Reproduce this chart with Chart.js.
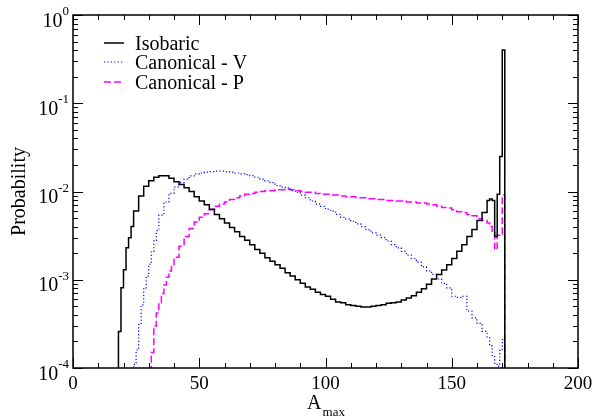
<!DOCTYPE html>
<html>
<head>
<meta charset="utf-8">
<script src="https://cdn.jsdelivr.net/npm/chart.js@4.4.1/dist/chart.umd.min.js"></script>
<style>
  body { margin: 0; background: #fff; }
  canvas { display: block; }
</style>
</head>
<body>
<canvas id="histChart" width="596" height="417"></canvas>
<script>
// bin left edges and bin heights
const isoEdges = [18, 19, 20, 21, 22, 23,
  24, 26, 28, 30, 32, 34, 36, 38, 40, 42, 44, 46, 48, 50, 52, 54, 56, 58, 60, 62, 64, 66, 68, 70,
  72, 74, 76, 78, 80, 82, 84, 86, 88, 90, 92, 94, 96, 98, 100, 102, 104, 106, 108, 110, 112, 114,
  116, 118, 120, 122, 124, 126, 128, 130, 132, 134, 136, 138, 140, 142, 144, 146, 148, 150, 152,
  154, 156, 158, 160, 162,
  164, 165, 166, 167, 168, 169, 170];
const isoValues = [0.00026, 0.00081, 0.0013, 0.0023, 0.0030, 0.0040,
  0.0060, 0.0089, 0.0115, 0.0132, 0.0145, 0.0151, 0.0151, 0.0141, 0.0129, 0.0120, 0.0110, 0.0100,
  0.0087, 0.0078, 0.0071, 0.0063, 0.0055, 0.0049, 0.0044, 0.0039, 0.0035, 0.0031, 0.0028, 0.0025,
  0.0022, 0.0020, 0.00178, 0.00162, 0.00148, 0.00135, 0.0012, 0.0011, 0.0010, 0.00091, 0.00083,
  0.00078, 0.00072, 0.00068, 0.00065, 0.00060, 0.00056, 0.00055, 0.00052, 0.00051, 0.00050,
  0.00049, 0.00049, 0.00050, 0.00051, 0.00052, 0.00054, 0.00055, 0.00056, 0.00059, 0.00062,
  0.00066, 0.00072, 0.00079, 0.00089, 0.00102, 0.00115, 0.00129, 0.00148, 0.00174, 0.0021,
  0.0025, 0.0031, 0.0037, 0.0047, 0.0058,
  0.0079, 0.0082, 0.0079, 0.0031, 0.0093, 0.025, 0.40];
const isoEnd = 171;

const canVEdges = [24, 25, 26, 27, 28, 29, 30, 31, 32, 33,
  34, 36, 38, 40, 42, 44, 46, 48, 50, 52, 54, 56, 58, 60, 62, 64, 66, 68, 70, 72, 74, 76, 78, 80,
  82, 84, 86, 88, 90, 92, 94, 96, 98, 100, 102, 104, 106, 108, 110, 112, 114, 116, 118, 120, 122,
  124, 126, 128, 130, 132, 134, 136, 138, 140, 142, 144, 146, 148, 150, 152, 154, 156, 158, 160, 162,
  164, 165, 166, 167, 168, 169, 170];
const canVValues = [0.00011, 0.00016, 0.00032, 0.00052, 0.00079, 0.0011, 0.0015, 0.0021, 0.0028, 0.0036,
  0.0054, 0.0076, 0.0095, 0.0112, 0.0126, 0.0138, 0.0150, 0.0158, 0.0162, 0.0166, 0.0168, 0.0170,
  0.0170, 0.0168, 0.0166, 0.0162, 0.0158, 0.0155, 0.0151, 0.0145, 0.0138, 0.0132, 0.0126, 0.0117,
  0.0112, 0.0110, 0.0102, 0.0098, 0.0091, 0.0085, 0.0078, 0.0072, 0.0068, 0.0063, 0.0060, 0.0055,
  0.0051, 0.0049, 0.0046, 0.0043, 0.0040, 0.0037, 0.0034, 0.0032, 0.0030, 0.00275, 0.0025, 0.0023,
  0.0021, 0.0019, 0.00174, 0.00158, 0.0014, 0.00126, 0.00115, 0.00102, 0.00091, 0.00081, 0.00065,
  0.00063, 0.00065, 0.00044, 0.00037, 0.00032, 0.00026,
  0.00022, 0.000178, 0.000138, 0.00011, 0.000105, 0.000158, 0.00021];
const canVEnd = 171;

const canPEdges = [31, 32, 33, 34, 35, 36, 37, 38, 39,
  40, 42, 44, 46, 48, 50, 52, 54, 56, 58, 60, 62, 64, 66, 68, 70, 72, 74, 76, 78, 80, 82, 84, 86,
  88, 90, 92, 94, 96, 98, 100, 102, 104, 106, 108, 110, 112, 114, 116, 118, 120, 122, 124, 126, 128,
  130, 132, 134, 136, 138, 140, 142, 144, 146, 148, 150, 152, 154, 156, 158, 160, 162,
  164, 165, 166, 167, 168, 169, 170];
const canPValues = [0.00015, 0.0003, 0.00042, 0.00055, 0.0007, 0.00087, 0.00107, 0.00126, 0.00148,
  0.0018, 0.0024, 0.0031, 0.0038, 0.0045, 0.0051, 0.0056, 0.0062, 0.0068, 0.0072, 0.0076, 0.0081,
  0.0085, 0.0089, 0.0093, 0.0095, 0.0098, 0.0100, 0.0102, 0.0102, 0.0105, 0.0105, 0.0106, 0.0105,
  0.0102, 0.0100, 0.0098, 0.0098, 0.0095, 0.0093, 0.0093, 0.0091, 0.0091, 0.0089, 0.0087, 0.0087,
  0.0085, 0.0085, 0.0083, 0.0083, 0.0081, 0.0081, 0.0079, 0.0079, 0.0078, 0.0078, 0.0076, 0.0076,
  0.0074, 0.0074, 0.0072, 0.0071, 0.0068, 0.0066, 0.0065, 0.0062, 0.0059, 0.0058, 0.0055, 0.0053,
  0.0049, 0.0047,
  0.0044, 0.0040, 0.0034, 0.0022, 0.0032, 0.0033, 0.0091];
const canPEnd = 171;

const seriesNames = ["Isobaric", "Canonical - V", "Canonical - P"];
const xTickValues = [0, 50, 100, 150, 200];
const yTickExponents = [-4, -3, -2, -1, 0];

const FLOOR = 1e-7; // below the axis, clipped away

function steps(edges, values, end) {
  const pts = [{ x: edges[0], y: FLOOR }];
  edges.forEach((e, i) => pts.push({ x: e, y: values[i] }));
  pts.push({ x: end, y: FLOOR });
  return pts;
}

const styles = [
  { color: "#000000", dash: [], width: 1.5 },
  { color: "#0000ff", dash: [1.2, 2.2], width: 1.2 },
  { color: "#ff00ff", dash: [7, 3], width: 1.5 }
];

const serif = '"Liberation Serif", "Times New Roman", serif';

// axes frame, inward ticks, labels and legend (xmgrace look)
const gracePlugin = {
  id: "grace",
  afterDraw(chart) {
    const { ctx, chartArea: a, scales } = chart;
    const x = scales.x, y = scales.y;
    ctx.save();
    ctx.strokeStyle = "#000";
    ctx.fillStyle = "#000";
    ctx.setLineDash([]);

    ctx.lineWidth = 1;
    ctx.beginPath();
    for (let v = 0; v <= 200; v += 10) {
      const px = Math.round(x.getPixelForValue(v)) + 0.5;
      const len = v % 50 === 0 ? 10 : 5;
      ctx.moveTo(px, a.bottom); ctx.lineTo(px, a.bottom - len);
      ctx.moveTo(px, a.top); ctx.lineTo(px, a.top + len);
    }
    yTickExponents.forEach(k => {
      for (let m = 1; m <= 9; m++) {
        if (k === 0 && m > 1) break;
        const py = Math.round(y.getPixelForValue(m * Math.pow(10, k))) + 0.5;
        const len = m === 1 ? 10 : 5;
        ctx.moveTo(a.left, py); ctx.lineTo(a.left + len, py);
        ctx.moveTo(a.right, py); ctx.lineTo(a.right - len, py);
      }
    });
    ctx.stroke();

    ctx.lineWidth = 1.5;
    ctx.strokeRect(a.left, a.top, a.right - a.left, a.bottom - a.top);

    // x tick labels
    ctx.font = "19px " + serif;
    ctx.textAlign = "center";
    ctx.textBaseline = "alphabetic";
    xTickValues.forEach(v => ctx.fillText(String(v), x.getPixelForValue(v), a.bottom + 21));

    // y tick labels 10^k
    ctx.textAlign = "left";
    yTickExponents.forEach(k => {
      const py = y.getPixelForValue(Math.pow(10, k));
      const exp = String(k);
      ctx.font = "13px " + serif;
      const we = ctx.measureText(exp).width;
      ctx.font = "20px " + serif;
      const wb = ctx.measureText("10").width;
      const xe = 69 - we;
      ctx.fillText("10", xe - wb, py + 11.5);
      ctx.font = "13px " + serif;
      ctx.fillText(exp, xe, py);
    });

    // axis titles
    ctx.font = "20px " + serif;
    const wA = ctx.measureText("A").width;
    ctx.font = "13px " + serif;
    const wM = ctx.measureText("max").width;
    const x0 = (a.left + a.right) / 2 - (wA + wM) / 2;
    ctx.font = "20px " + serif;
    ctx.fillText("A", x0, 409);
    ctx.font = "13px " + serif;
    ctx.fillText("max", x0 + wA + 1, 416);

    ctx.save();
    ctx.translate(25, (a.top + a.bottom) / 2);
    ctx.rotate(-Math.PI / 2);
    ctx.font = "20px " + serif;
    ctx.textAlign = "center";
    ctx.fillText("Probability", 0, 0);
    ctx.restore();

    // legend
    const rows = [43, 62, 82];
    seriesNames.forEach((name, i) => {
      const s = styles[i];
      ctx.strokeStyle = s.color;
      ctx.lineWidth = s.width;
      ctx.setLineDash(s.dash);
      ctx.beginPath();
      ctx.moveTo(104, rows[i]);
      ctx.lineTo(124, rows[i]);
      ctx.stroke();
      ctx.setLineDash([]);
      ctx.fillStyle = "#000";
      ctx.font = "20px " + serif;
      ctx.textAlign = "left";
      ctx.fillText(name, 135, rows[i] + 7);
    });
    ctx.restore();
  }
};

const seriesData = [
  steps(isoEdges, isoValues, isoEnd),
  steps(canVEdges, canVValues, canVEnd),
  steps(canPEdges, canPValues, canPEnd)
];

new Chart(document.getElementById("histChart").getContext("2d"), {
  type: "line",
  data: {
    datasets: seriesNames.map((name, i) => ({
      label: name,
      data: seriesData[i],
      borderColor: styles[i].color,
      borderWidth: styles[i].width,
      borderDash: styles[i].dash,
      stepped: "before",
      pointRadius: 0,
      fill: false,
      tension: 0
    }))
  },
  options: {
    responsive: false,
    devicePixelRatio: 1,
    animation: false,
    layout: { padding: { left: 73, right: 18, top: 15, bottom: 49 } },
    scales: {
      x: { type: "linear", min: 0, max: 200, display: false },
      y: { type: "logarithmic", min: 1e-4, max: 1, display: false }
    },
    plugins: {
      legend: { display: false },
      tooltip: { enabled: false }
    }
  },
  plugins: [gracePlugin]
});
</script>
</body>
</html>
